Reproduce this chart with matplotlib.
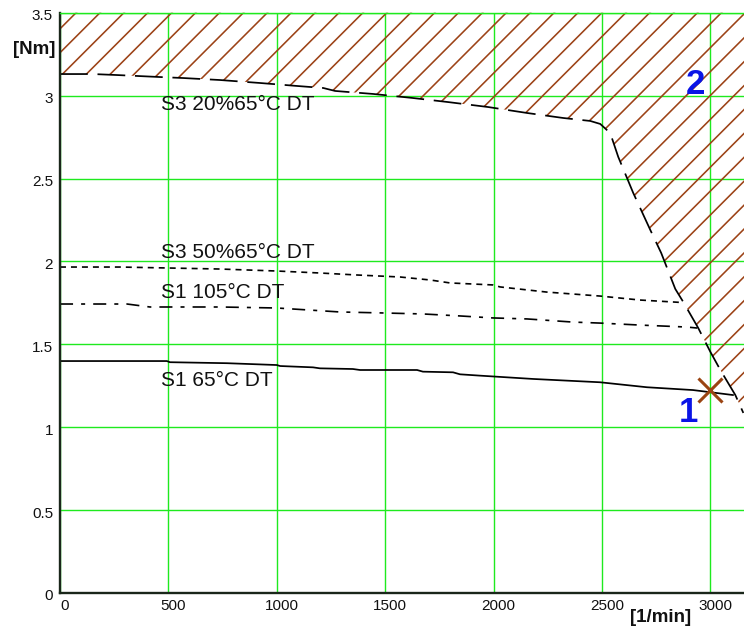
import matplotlib
matplotlib.use("Agg")
import matplotlib.pyplot as plt
from matplotlib.collections import LineCollection
from matplotlib.patches import Polygon
from matplotlib.transforms import IdentityTransform, ScaledTranslation
from matplotlib.ticker import FuncFormatter

plt.rcParams["font.family"] = ["Liberation Sans", "DejaVu Sans"]
plt.rcParams["lines.scale_dashes"] = False

# ---- torque/speed characteristics ----
# S3 20% 65°C DT, continuing along the voltage limit at high speed
s3_20_rpm = [0, 152, 263, 461, 568, 738, 923, 1094, 1214, 1269, 1444, 1624, 1790,
             1975, 2155, 2321, 2446, 2492, 2538, 2575, 2644, 2723, 2773, 2838,
             2875, 2944, 3000, 3046, 3115, 3152]
s3_20_nm = [3.130, 3.130, 3.124, 3.112, 3.106, 3.094, 3.076, 3.058, 3.046, 3.028,
            3.010, 2.986, 2.961, 2.931, 2.895, 2.865, 2.847, 2.829, 2.774, 2.630,
            2.413, 2.189, 2.051, 1.834, 1.755, 1.598, 1.454, 1.345, 1.194, 1.086]

# S3 50% 65°C DT
s3_50_rpm = [0, 277, 507, 738, 1000, 1199, 1370, 1568, 1707, 1799, 1997, 2030,
             2245, 2491, 2675, 2870]
s3_50_nm = [1.966, 1.966, 1.960, 1.954, 1.942, 1.930, 1.918, 1.906, 1.888, 1.870,
            1.858, 1.846, 1.815, 1.791, 1.767, 1.752]

# S1 105°C DT
s1_105_rpm = [0, 309, 415, 738, 1000, 1291, 1490, 1674, 1845, 1997, 2154, 2366,
              2491, 2675, 2892, 2940]
s1_105_nm = [1.743, 1.743, 1.725, 1.725, 1.719, 1.695, 1.689, 1.683, 1.671, 1.659,
             1.653, 1.634, 1.628, 1.616, 1.604, 1.598]

# S1 65°C DT
s1_65_rpm = [0, 493, 507, 770, 1000, 1015, 1167, 1199, 1351, 1384, 1508, 1647,
             1674, 1813, 1845, 1937, 2182, 2491, 2707, 2920, 3104]
s1_65_nm = [1.399, 1.399, 1.392, 1.386, 1.375, 1.369, 1.361, 1.355, 1.351, 1.345,
            1.345, 1.345, 1.335, 1.331, 1.319, 1.311, 1.291, 1.271, 1.241, 1.224,
            1.194]

# rated operating point
rated_rpm = [3000]
rated_nm = [1.225]

curve_labels = ["S3 20%65°C DT", "S3 50%65°C DT", "S1 105°C DT", "S1 65°C DT"]
curve_label_y = [2.913, 2.019, 1.777, 1.248]
curve_label_x = 465

x_ticks = [0, 500, 1000, 1500, 2000, 2500, 3000]
y_ticks = [0, 0.5, 1, 1.5, 2, 2.5, 3, 3.5]
X_MAX = 3155
Y_MAX = 3.5

GRID_GREEN = "#1eea1e"
HATCH_BROWN = "#9c4216"
POINT_BLUE = "#0a14e6"

fig = plt.figure(figsize=(7.44, 6.27), dpi=100)
ax = fig.add_axes([60 / 744, 34 / 627, 684 / 744, 580.3 / 627])
ax.set_xlim(0, X_MAX)
ax.set_ylim(0, Y_MAX)

# grid and frame
ax.set_xticks(x_ticks)
ax.set_yticks(y_ticks)
ax.grid(True, color=GRID_GREEN, linewidth=1.0)
ax.set_axisbelow(True)
for side in ("left", "bottom"):
    ax.spines[side].set_color("#1a261a")
    ax.spines[side].set_linewidth(1.7)
ax.spines["right"].set_visible(False)
ax.spines["top"].set_color(GRID_GREEN)
ax.spines["top"].set_linewidth(1.0)
ax.tick_params(length=0, labelsize=11, colors="#111111")
ax.tick_params(axis="x", pad=4.5)
ax.tick_params(axis="y", pad=5)
ax.yaxis.set_major_formatter(FuncFormatter(lambda v, p: "%g" % v))
ax.xaxis.set_major_formatter(FuncFormatter(lambda v, p: "%d" % v))

fig.canvas.draw()
for tk in ax.xaxis.get_major_ticks():
    tk.label1.set_transform(tk.label1.get_transform()
                            + ScaledTranslation(5 / 100, 0, fig.dpi_scale_trans))
for tk in ax.yaxis.get_major_ticks():
    tk.label1.set_transform(tk.label1.get_transform()
                            + ScaledTranslation(0, -2 / 100, fig.dpi_scale_trans))

# hatched region above the S3 20% / voltage-limit curve, bounded by the frame
region = list(zip(s3_20_rpm, s3_20_nm)) + [(X_MAX, s3_20_nm[-1] - 0.01),
                                           (X_MAX, Y_MAX),
                                           (0, Y_MAX)]
patch = Polygon(region, closed=True, facecolor="none", edgecolor="none")
ax.add_patch(patch)
W, H = 744, 627
segs = []
c = 112.7 - 23.9 * 40
while c < W + H + 100:
    k = c - H
    segs.append([(k, 0), (k + H, H)])
    c += 23.9
hatch = LineCollection(segs, colors=HATCH_BROWN, linewidths=1.15,
                       transform=IdentityTransform())
hatch.set_clip_path(patch)
ax.add_collection(hatch, autolim=False)

# characteristic curves
ax.plot(s3_20_rpm, s3_20_nm, color="black", linewidth=1.25, dashes=(20, 7))
ax.plot(s3_50_rpm, s3_50_nm, color="black", linewidth=1.2, dashes=(4.3, 3.6))
ax.plot(s1_105_rpm, s1_105_nm, color="black", linewidth=1.2,
        dashes=(9.4, 5.8, 2.9, 5.8))
ax.plot(s1_65_rpm, s1_65_nm, color="black", linewidth=1.25)

for txt, yv in zip(curve_labels, curve_label_y):
    ax.text(curve_label_x, yv, txt, fontsize=15, ha="left", va="baseline",
            color="#111111")

# rated point and region markers
ax.plot(rated_rpm, rated_nm, linestyle="none", marker="x", markersize=17,
        markeredgewidth=2.2, color="#9a4412", zorder=5)
ax.text(2901, 1.031, "1", fontsize=25, fontweight="bold", color=POINT_BLUE,
        ha="center", va="baseline")
ax.text(2929, 3.010, "2", fontsize=25, fontweight="bold", color=POINT_BLUE,
        ha="center", va="baseline")

# axis units
fig.text(34 / 744, 1 - 50 / 627, "[Nm]", fontsize=13.5, fontweight="bold",
         ha="center", va="center", color="#111111")
fig.text(661 / 744, 1 - 617 / 627, "[1/min]", fontsize=13.5, fontweight="bold",
         ha="center", va="center", color="#111111")

fig.savefig("out.png", dpi=100)
